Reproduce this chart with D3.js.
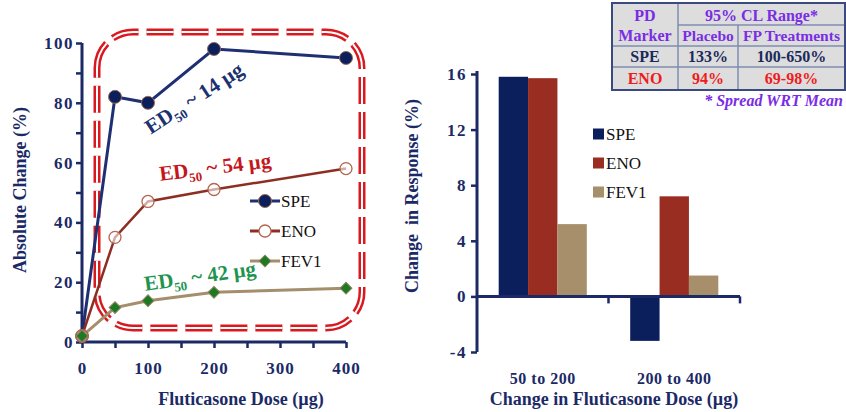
<!DOCTYPE html>
<html><head><meta charset="utf-8">
<script src="https://cdn.jsdelivr.net/npm/d3@7"></script>
<style>
body{margin:0;background:#fff;}
svg{display:block;font-family:"Liberation Serif","Times New Roman",serif;}
</style></head>
<body><svg id="c" width="846" height="412"></svg>
<script>
// ---- data: left chart (dose-response) ----
const doses = [0, 50, 100, 200, 400];
const speAbs = [2, 82, 80, 98, 95];
const enoAbs = [2, 35, 47, 51, 58];
const fevAbs = [2, 11.5, 13.8, 16.6, 18];
const leftXTicks = [0, 50, 100, 150, 200, 250, 300, 350, 400];
const leftXLabels = [0, 100, 200, 300, 400];
const leftYTicks = [0, 10, 20, 30, 40, 50, 60, 70, 80, 90, 100];
const leftYLabels = [0, 20, 40, 60, 80, 100];
// ---- data: right chart (change in response) ----
const doseSteps = ["50 to 200", "200 to 400"];
const seriesNames = ["SPE", "ENO", "FEV1"];
const speChange = [15.8, -3.2];
const enoChange = [15.7, 7.2];
const fevChange = [5.2, 1.5];
const rightYTicks = [-4, 0, 4, 8, 12, 16];
// ---- data: table ----
const tableHeader1 = ["PD", "95% CL Range*"];
const tableHeader2 = ["Marker", "Placebo", "FP Treatments"];
const tableRows = [["SPE", "133%", "100-650%"], ["ENO", "94%", "69-98%"]];
const edLabels = ["14", "54", "42"];

const svg = d3.select("#c");
const NAVY = "#1b2a66";
const RED_BAR = "#9a2d21";
const TAN = "#a68f6a";
const BAR_NAVY = "#0b1f5c";

// ================= LEFT CHART =================
const x = d3.scaleLinear([0, 400], [82, 346]);
const y = d3.scaleLinear([0, 100], [342, 43]);

// dashed rounded rectangle
const rx0 = 97, rx1 = 362, ry0 = 32, ry1 = 328, rr = 36;
const rrPath = `M${rx0},${ry0+rr} A${rr},${rr} 0 0 1 ${rx0+rr},${ry0} L${rx1-rr},${ry0} A${rr},${rr} 0 0 1 ${rx1},${ry0+rr} L${rx1},${ry1-rr} A${rr},${rr} 0 0 1 ${rx1-rr},${ry1} L${rx0+rr},${ry1} A${rr},${rr} 0 0 1 ${rx0},${ry1-rr} Z`;
svg.append("path").attr("d", rrPath).attr("fill", "none").attr("stroke", "#d8191f")
  .attr("stroke-width", 7).attr("stroke-dasharray", "27,8");
svg.append("path").attr("d", rrPath).attr("fill", "none").attr("stroke", "#fff")
  .attr("stroke-width", 2).attr("stroke-dasharray", "27,8");

// axes
const gyL = svg.append("g").attr("transform", "translate(82,0)")
  .call(d3.axisLeft(y).tickValues(leftYTicks).tickSize(6).tickFormat(d => leftYLabels.includes(d) ? d : ""));
const gxL = svg.append("g").attr("transform", "translate(0,342)")
  .call(d3.axisBottom(x).tickValues(leftXTicks).tickSize(6).tickFormat(d => leftXLabels.includes(d) ? d : ""));
[gyL, gxL].forEach(g => {
  g.select(".domain").attr("stroke", NAVY).attr("stroke-width", 3);
  g.selectAll(".tick line").attr("stroke", NAVY).attr("stroke-width", 2.5);
  g.selectAll("text").attr("fill", NAVY).attr("font-weight", "bold").attr("font-size", 17)
    .attr("font-family", "Liberation Serif");
});
gyL.selectAll("text").attr("x", -8).attr("letter-spacing", 1.5);
gxL.selectAll("text").attr("y", 20).attr("letter-spacing", 1);
gyL.select(".domain").attr("d", "M0,342V43");
gxL.select(".domain").attr("d", "M82,0H346");

// lines
const line = d3.line().x((d, i) => x(doses[i])).y(d => y(d));
svg.append("path").datum(speAbs).attr("d", line).attr("fill", "none").attr("stroke", "#1e2f72").attr("stroke-width", 3);
svg.append("path").datum(enoAbs).attr("d", line).attr("fill", "none").attr("stroke", "#8e2e22").attr("stroke-width", 2.5);
svg.append("path").datum(fevAbs).attr("d", line).attr("fill", "none").attr("stroke", "#a48e6c").attr("stroke-width", 3);

// markers
svg.selectAll(".mspe").data(speAbs).enter().append("circle")
  .attr("cx", (d, i) => x(doses[i])).attr("cy", d => y(d)).attr("r", 6.5)
  .attr("fill", "#0b1f5c").attr("stroke", "#9a6a50").attr("stroke-width", 1);
svg.selectAll(".meno").data(enoAbs).enter().append("circle")
  .attr("cx", (d, i) => x(doses[i])).attr("cy", d => y(d)).attr("r", 6)
  .attr("fill", "rgba(255,255,255,0.6)").attr("stroke", "#b5644f").attr("stroke-width", 1.3);
const diamond = d3.symbol().type(d3.symbolSquare).size(70);
svg.selectAll(".mfev").data(fevAbs).enter().append("path")
  .attr("d", diamond).attr("transform", (d, i) => `translate(${x(doses[i])},${y(d)}) rotate(45)`)
  .attr("fill", "#1c7a22").attr("stroke", "#8f8060").attr("stroke-width", 1);

// ED50 annotations
function ed(txt, cx, cy, rot, color) {
  const t = svg.append("text").attr("transform", `translate(${cx},${cy}) rotate(${rot})`)
    .attr("text-anchor", "middle").attr("font-weight", "bold").attr("font-size", 21).attr("fill", color);
  t.append("tspan").text("ED");
  t.append("tspan").attr("font-size", 13).attr("dy", 5).text("50");
  t.append("tspan").attr("dy", -5).text(" ~ " + txt + " µg");
}
ed(edLabels[0], 198, 104, -33, "#1b3170");
ed(edLabels[1], 216, 174, -7, "#c4161c");
ed(edLabels[2], 201, 283, -8, "#1e9450");

// left legend
const legL = [
  {name: "SPE", y: 201},
  {name: "ENO", y: 231},
  {name: "FEV1", y: 261}
];
legL.forEach((l, i) => {
  const col = ["#1e2f72", "#8e2e22", "#a48e6c"][i];
  svg.append("line").attr("x1", 250).attr("x2", 280).attr("y1", l.y).attr("y2", l.y)
    .attr("stroke", col).attr("stroke-width", 3);
  if (i === 0) svg.append("circle").attr("cx", 265).attr("cy", l.y).attr("r", 6.5).attr("fill", "#0b1f5c").attr("stroke", "#9a6a50");
  if (i === 1) svg.append("circle").attr("cx", 265).attr("cy", l.y).attr("r", 6).attr("fill", "#fff").attr("stroke", "#b5644f").attr("stroke-width", 1.3);
  if (i === 2) svg.append("path").attr("d", diamond).attr("transform", `translate(265,${l.y}) rotate(45)`).attr("fill", "#1c7a22").attr("stroke", "#8f8060");
  svg.append("text").attr("x", 281).attr("y", l.y + 6).attr("font-size", 17).attr("fill", "#111").text(l.name);
});

// axis titles left
svg.append("text").attr("transform", "translate(26,190) rotate(-90)").attr("text-anchor", "middle")
  .attr("font-weight", "bold").attr("font-size", 18).attr("fill", NAVY).text("Absolute Change (%)");
svg.append("text").attr("x", 241).attr("y", 405).attr("text-anchor", "middle")
  .attr("font-weight", "bold").attr("font-size", 18).attr("fill", NAVY).text("Fluticasone Dose (µg)");

// ================= RIGHT CHART =================
const xb = d3.scaleBand(doseSteps, [477, 740]).paddingInner(0).paddingOuter(0);
const xs = d3.scaleBand(seriesNames, [xb.bandwidth() * 0.165, xb.bandwidth() * 0.835]).padding(0);
const y2 = d3.scaleLinear([-4, 16], [352, 74]);
const barData = [];
doseSteps.forEach((g, gi) => {
  [speChange, enoChange, fevChange].forEach((arr, si) => barData.push({g, s: seriesNames[si], v: arr[gi]}));
});
const barColor = d3.scaleOrdinal(seriesNames, [BAR_NAVY, RED_BAR, TAN]);
svg.selectAll(".bar").data(barData).enter().append("rect")
  .attr("x", d => xb(d.g) + xs(d.s)).attr("width", xs.bandwidth())
  .attr("y", d => y2(Math.max(0, d.v))).attr("height", d => Math.abs(y2(d.v) - y2(0)))
  .attr("fill", d => barColor(d.s));

const gyR = svg.append("g").attr("transform", "translate(477,0)")
  .call(d3.axisLeft(y2).tickValues(rightYTicks).tickSize(6).tickFormat(d => d < 0 ? "-" + Math.abs(d) : d));
gyR.select(".domain").attr("d", "M0,352V71").attr("stroke", NAVY).attr("stroke-width", 3);
gyR.selectAll(".tick line").attr("stroke", NAVY).attr("stroke-width", 2.5);
gyR.selectAll("text").attr("fill", NAVY).attr("font-weight", "bold").attr("font-size", 17)
  .attr("font-family", "Liberation Serif").attr("letter-spacing", 1.5).attr("x", -10);

const gxR = svg.append("g").attr("transform", `translate(0,${y2(0)})`);
gxR.append("line").attr("x1", 477).attr("x2", 740).attr("stroke", NAVY).attr("stroke-width", 3);
doseSteps.forEach(g => {
  gxR.append("line").attr("x1", xb(g) + xb.bandwidth()).attr("x2", xb(g) + xb.bandwidth())
    .attr("y1", 0).attr("y2", 7).attr("stroke", NAVY).attr("stroke-width", 2.5);
  svg.append("text").attr("x", xb(g) + xb.bandwidth() / 2).attr("y", 384).attr("text-anchor", "middle")
    .attr("font-weight", "bold").attr("font-size", 16).attr("letter-spacing", 0.5).attr("fill", NAVY).text(g);
});

svg.append("text").attr("transform", "translate(418,196) rotate(-90)").attr("text-anchor", "middle")
  .attr("font-weight", "bold").attr("font-size", 18).attr("fill", NAVY).attr("xml:space", "preserve")
  .text("Change  in Response (%)");
svg.append("text").attr("x", 614).attr("y", 405).attr("text-anchor", "middle")
  .attr("font-weight", "bold").attr("font-size", 18).attr("fill", NAVY).text("Change in Fluticasone Dose (µg)");

// right legend
seriesNames.forEach((s, i) => {
  const cy = 134 + i * 29;
  svg.append("rect").attr("x", 593).attr("y", cy - 5.5).attr("width", 11).attr("height", 11).attr("fill", barColor(s));
  svg.append("text").attr("x", 606).attr("y", cy + 6).attr("font-size", 17).attr("fill", "#111").text(s);
});

// ================= TABLE =================
const cx = [612, 678, 738, 845];
const ry = [3, 25, 46, 67, 90];
const PURPLE = "#7a2de4";
const tg = svg.append("g");
tg.append("rect").attr("x", cx[0]).attr("y", ry[0]).attr("width", cx[3] - cx[0]).attr("height", ry[4] - ry[0])
  .attr("fill", "#dddddd");
const gl = "#7f8db0";
tg.append("line").attr("x1", cx[1]).attr("x2", cx[1]).attr("y1", ry[0]).attr("y2", ry[4]).attr("stroke", gl).attr("stroke-width", 1.5);
tg.append("line").attr("x1", cx[2]).attr("x2", cx[2]).attr("y1", ry[1]).attr("y2", ry[4]).attr("stroke", gl).attr("stroke-width", 1.5);
tg.append("line").attr("x1", cx[1]).attr("x2", cx[3]).attr("y1", ry[1]).attr("y2", ry[1]).attr("stroke", gl).attr("stroke-width", 1.5);
tg.append("line").attr("x1", cx[0]).attr("x2", cx[3]).attr("y1", ry[2]).attr("y2", ry[2]).attr("stroke", gl).attr("stroke-width", 1.5);
tg.append("line").attr("x1", cx[0]).attr("x2", cx[3]).attr("y1", ry[3]).attr("y2", ry[3]).attr("stroke", gl).attr("stroke-width", 1.5);
tg.append("rect").attr("x", cx[0]).attr("y", ry[0]).attr("width", cx[3] - cx[0]).attr("height", ry[4] - ry[0])
  .attr("fill", "none").attr("stroke", "#3b4a7e").attr("stroke-width", 2);
function tt(str, x0, yc, color, size) {
  tg.append("text").attr("x", x0).attr("y", yc + 5.5).attr("text-anchor", "middle").attr("font-weight", "bold")
    .attr("font-size", size || 16).attr("fill", color).text(str);
}
tt(tableHeader1[0], (cx[0] + cx[1]) / 2, 15, PURPLE);
tt(tableHeader1[1], (cx[1] + cx[3]) / 2, 15, PURPLE);
tt(tableHeader2[0], (cx[0] + cx[1]) / 2, 35.5, PURPLE);
tt(tableHeader2[1], (cx[1] + cx[2]) / 2, 35.5, PURPLE, 15.5);
tt(tableHeader2[2], (cx[2] + cx[3]) / 2, 35.5, PURPLE, 15.5);
tableRows.forEach((r, i) => {
  const col = i === 0 ? "#1b2a5c" : "#ee1c1c";
  const yc = (ry[2 + i] + ry[3 + i]) / 2;
  r.forEach((v, j) => tt(v, (cx[j] + cx[j + 1]) / 2, yc, col, 16));
});
svg.append("text").attr("x", 843).attr("y", 106).attr("text-anchor", "end").attr("font-weight", "bold")
  .attr("font-style", "italic").attr("font-size", 16).attr("fill", PURPLE).text("* Spread WRT Mean");
</script></body></html>
